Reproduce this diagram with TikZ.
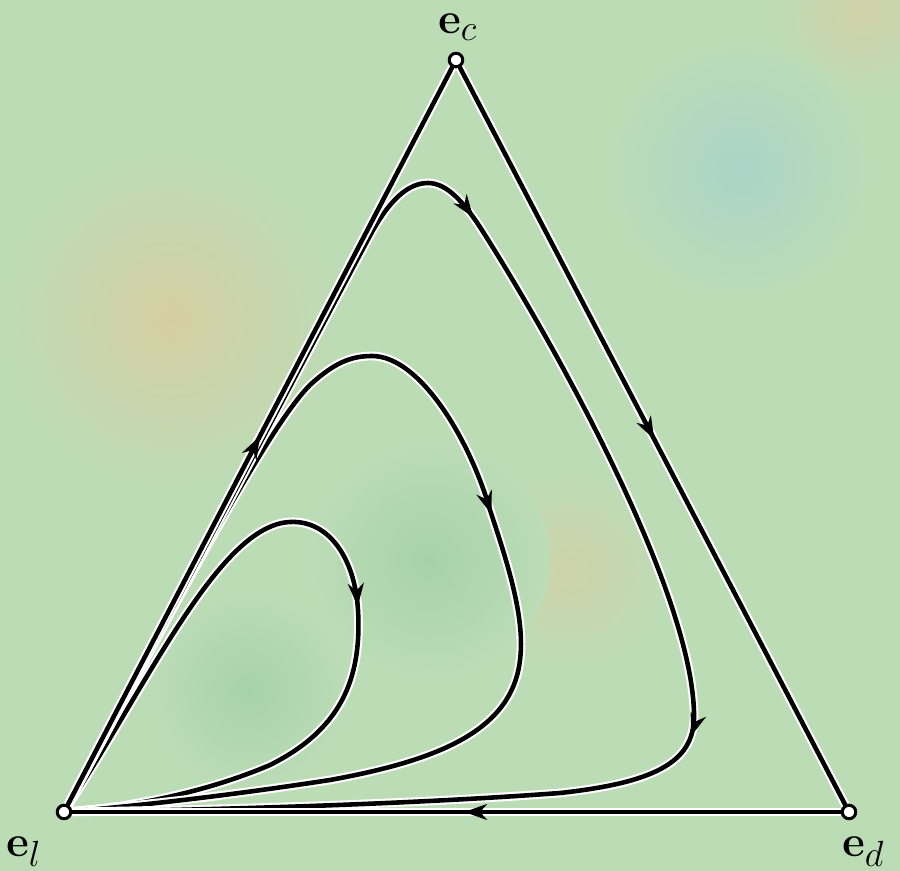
\documentclass[tikz,border=0pt]{standalone}
\usetikzlibrary{arrows.meta,decorations.markings}
\definecolor{bgc}{RGB}{188,220,182}
\definecolor{tan}{RGB}{214,206,162}
\definecolor{teal}{RGB}{170,212,200}
\definecolor{dgreen}{RGB}{166,210,170}
\begin{document}
\begin{tikzpicture}[x=0.02cm,y=-0.02cm,
  vert/.style={circle,draw=black,fill=white,line width=1.7pt,minimum size=0.27cm,inner sep=0pt},
  lab/.style={font=\fontsize{28}{32}\selectfont,inner sep=0pt,anchor=base west},
  flow/.style={draw=black,line width=2.6pt,line cap=round,line join=round,
    preaction={draw=white,line width=5pt},
    postaction={decorate},
    decoration={markings,mark=at position #1 with {\arrow{Stealth[length=13pt,width=9pt,inset=4pt]}}}}
]
\useasboundingbox (0,0) rectangle (900,871);
% background
\fill[bgc] (0,0) rectangle (900,871);
\shade[inner color=tan,outer color=bgc] (170,320) circle (170);
\shade[inner color=tan!70!bgc,outer color=bgc] (570,570) circle (100);
\shade[inner color=tan!80!bgc,outer color=bgc] (860,10) circle (90);
\shade[inner color=teal,outer color=bgc] (740,170) circle (130);
\shade[inner color=dgreen,outer color=bgc] (430,560) circle (120);
\shade[inner color=dgreen,outer color=bgc] (250,690) circle (100);
% vertices
\node[vert] (ec) at (456,60) {};
\node[vert] (el) at (64,812) {};
\node[vert] (ed) at (849,812) {};
\node[lab] (lc) at (438,34) {$\mathbf{e}_{c}$};
\node[lab] (ll) at (6,856) {$\mathbf{e}_{l}$};
\node[lab] (ld) at (842,856) {$\mathbf{e}_{d}$};
% orbits
\draw[flow=0.55] (el) .. controls (150,680) and (220,525) .. (290,522)
  .. controls (330,520) and (355,560) .. (358,610)
  .. controls (362,680) and (340,730) .. (270,765)
  .. controls (200,795) and (120,808) .. (el);
\draw[flow=0.54] (el) .. controls (170,615) and (265,430) .. (310,385)
  .. controls (335,362) and (352,356) .. (372,356)
  .. controls (420,356) and (470,440) .. (490,510)
  .. controls (510,570) and (525,620) .. (520,660)
  .. controls (512,730) and (440,760) .. (330,780)
  .. controls (200,800) and (110,808) .. (el);
\draw[flow=0.394,decoration={markings,mark=at position 0.68 with {\arrow{Stealth[length=13pt,width=9pt,inset=4pt]}}}]
  (el) .. controls (215,530) and (330,310) .. (372,232)
  .. controls (390,200) and (408,183) .. (428,183)
  .. controls (448,183) and (465,205) .. (478,224)
  .. controls (540,320) and (690,580) .. (694,712)
  .. controls (696,760) and (660,782) .. (560,793)
  .. controls (400,805) and (200,810) .. (el);
% edges
\draw[flow=0.5] (el) -- (ec);
\draw[flow=0.505] (ec) -- (ed);
\draw[flow=0.49] (ed) -- (el);
\end{tikzpicture}
\end{document}
